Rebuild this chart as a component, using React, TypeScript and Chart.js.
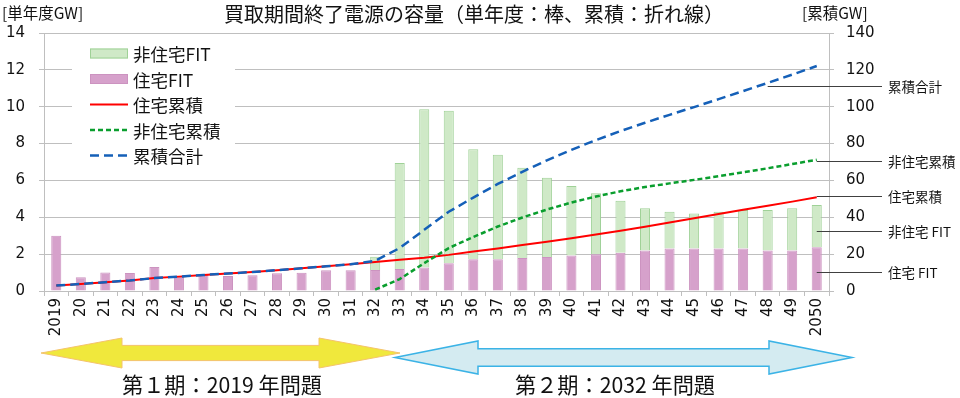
import React, { useEffect, useRef } from 'react';
import { Chart, registerables } from 'chart.js';

Chart.register(...registerables);

// ---------- data ----------
const years = ['2019','20','21','22','23','24','25','26','27','28','29','30','31','32','33','34','35','36','37','38','39','40','41','42','43','44','45','46','47','48','49','2050'];

const residentialFIT = [3.0,0.75,1.0,0.97,1.3,0.78,0.87,0.81,0.85,0.96,0.99,1.12,1.12,1.14,1.19,1.28,1.5,1.72,1.72,1.79,1.84,1.92,2.0,2.08,2.2,2.3,2.3,2.3,2.3,2.2,2.2,2.37];
const nonResidentialFIT = [null,null,null,null,null,null,null,null,null,null,null,null,null,0.72,5.75,8.58,8.28,5.97,5.68,4.9,4.31,3.78,3.31,2.82,2.29,2.0,1.9,2.0,2.1,2.2,2.29,2.3];

const residentialCum = [3.0,3.8,4.8,5.7,7.0,7.8,8.7,9.5,10.3,11.3,12.3,13.4,14.5,15.7,16.9,18.1,19.6,21.4,23.1,24.9,26.7,28.6,30.6,32.7,34.9,37.2,39.5,41.8,44.1,46.3,48.5,50.9];
const nonResidentialCum = [null,null,null,null,null,null,null,null,null,null,null,null,null,0.7,6.5,15.1,23.3,29.3,35.0,39.9,44.2,48.0,51.3,54.1,56.4,58.4,60.3,62.3,64.4,66.6,68.9,71.2];
const totalCum = [3.0,3.8,4.8,5.7,7.0,7.8,8.7,9.5,10.3,11.3,12.3,13.4,14.5,16.4,23.3,33.2,43.0,50.7,58.1,64.7,70.9,76.6,81.9,86.8,91.3,95.6,99.8,104.1,108.5,112.9,117.4,122.1];

const seriesNames = ['住宅FIT','非住宅FIT','住宅累積','非住宅累積','累積合計'];
const legendOrder = [1,0,2,3,4];

const annotationLabels = ['累積合計','非住宅累積','住宅累積','非住宅 FIT','住宅 FIT'];
const annotationValues = [111,70.5,51.3,32.6,10.3];
const annotationFrom = ['48','2050','2050','2050','2050'];

const periodLabels = ['第１期：2019 年問題','第２期：2032 年問題'];

const TITLE = '買取期間終了電源の容量（単年度：棒、累積：折れ線）';
const LEFT_TITLE = '[単年度GW]';
const RIGHT_TITLE = '[累積GW]';

const JP = "'Noto Sans CJK JP', 'DejaVu Sans', sans-serif";
const NUM = "'DejaVu Sans', 'Noto Sans CJK JP', sans-serif";

const GRID = '#bfbfbf';

function drawDoubleArrow(ctx: CanvasRenderingContext2D, x0: number, x1: number, cy: number, headLen: number, headHalf: number, shaftHalf: number, fill: string, stroke: string, lw: number) {
  ctx.beginPath();
  ctx.moveTo(x0, cy);
  ctx.lineTo(x0 + headLen, cy - headHalf);
  ctx.lineTo(x0 + headLen, cy - shaftHalf);
  ctx.lineTo(x1 - headLen, cy - shaftHalf);
  ctx.lineTo(x1 - headLen, cy - headHalf);
  ctx.lineTo(x1, cy);
  ctx.lineTo(x1 - headLen, cy + headHalf);
  ctx.lineTo(x1 - headLen, cy + shaftHalf);
  ctx.lineTo(x0 + headLen, cy + shaftHalf);
  ctx.lineTo(x0 + headLen, cy + headHalf);
  ctx.closePath();
  ctx.fillStyle = fill;
  ctx.fill();
  ctx.strokeStyle = stroke;
  ctx.lineWidth = lw;
  ctx.stroke();
}

function drawFitText(ctx: CanvasRenderingContext2D, text: string, cx: number, cy: number, width: number, font: string) {
  ctx.save();
  ctx.font = font;
  const w = ctx.measureText(text).width;
  const s = width / w;
  ctx.translate(cx, cy);
  ctx.scale(s, 1);
  ctx.textAlign = 'center';
  ctx.textBaseline = 'middle';
  ctx.fillStyle = '#111';
  ctx.fillText(text, 0, 0);
  ctx.restore();
}

const decorPlugin = {
  id: 'decor',
  afterDraw(chart: any) {
    const ctx: CanvasRenderingContext2D = chart.ctx;
    const xs = chart.scales.x;
    const y1 = chart.scales.y1;
    ctx.save();

    // titles
    ctx.fillStyle = '#111';
    ctx.textBaseline = 'middle';
    ctx.font = `20px ${JP}`;
    ctx.textAlign = 'center';
    ctx.fillText(TITLE, 474, 14);
    ctx.font = `15.5px ${JP}`;
    ctx.textAlign = 'left';
    ctx.fillText(LEFT_TITLE, 2, 13);
    ctx.fillText(RIGHT_TITLE, 802, 13);

    // legend
    ctx.fillStyle = '#fff';
    ctx.fillRect(72, 40, 163, 132);
    const ds = chart.data.datasets;
    legendOrder.forEach((di, i) => {
      const d = ds[di];
      const cy = 53.5 + i * 25.5;
      if (d.type === 'line') {
        ctx.save();
        ctx.strokeStyle = d.borderColor;
        ctx.lineWidth = d.borderWidth;
        ctx.setLineDash(d.borderDash || []);
        ctx.beginPath();
        ctx.moveTo(90, cy);
        ctx.lineTo(128, cy);
        ctx.stroke();
        ctx.restore();
      } else {
        ctx.fillStyle = d.backgroundColor;
        ctx.fillRect(90, cy - 5, 38, 10);
        ctx.strokeStyle = d.borderColor;
        ctx.lineWidth = 1;
        ctx.strokeRect(90.5, cy - 4.5, 37, 9);
      }
      ctx.fillStyle = '#111';
      ctx.font = `17.5px ${JP}`;
      ctx.textAlign = 'left';
      ctx.textBaseline = 'middle';
      ctx.fillText(d.label, 133, cy + 1);
    });

    // right annotations
    ctx.strokeStyle = '#404040';
    ctx.lineWidth = 1;
    annotationLabels.forEach((lab, i) => {
      const y = Math.round(y1.getPixelForValue(annotationValues[i])) + 0.5;
      const x0 = xs.getPixelForValue(years.indexOf(annotationFrom[i]));
      ctx.beginPath();
      ctx.moveTo(x0, y);
      ctx.lineTo(882, y);
      ctx.stroke();
      ctx.fillStyle = '#111';
      ctx.font = `13.5px ${JP}`;
      ctx.textAlign = 'left';
      ctx.textBaseline = 'middle';
      ctx.fillText(lab, 888, y);
    });

    // period arrows
    drawDoubleArrow(ctx, 41, 400, 353, 81, 15, 7.6, '#f0e83c', '#f4c36c', 1);
    drawDoubleArrow(ctx, 395, 852, 357.5, 83, 16.5, 8.7, '#d4ebf1', '#3bb3e6', 1.5);
    drawFitText(ctx, periodLabels[0], 222, 385, 200, `22px ${JP}`);
    drawFitText(ctx, periodLabels[1], 615, 385, 200, `22px ${JP}`);

    ctx.restore();
  },
};

export default function App() {
  const ref = useRef<HTMLCanvasElement | null>(null);

  useEffect(() => {
    if (!ref.current) return;
    const chart = new Chart(ref.current, {
      type: 'bar',
      data: {
        labels: years,
        datasets: [
          {
            type: 'bar',
            label: seriesNames[0],
            data: residentialFIT,
            backgroundColor: '#d6a1cb',
            borderColor: '#cc93c0',
            borderWidth: 1,
            yAxisID: 'y',
            stack: 's',
            order: 4,
            barPercentage: 0.41,
            categoryPercentage: 1,
          } as any,
          {
            type: 'bar',
            label: seriesNames[1],
            data: nonResidentialFIT,
            backgroundColor: '#cfe9c7',
            borderColor: '#9fd197',
            borderWidth: 1,
            yAxisID: 'y',
            stack: 's',
            order: 5,
            barPercentage: 0.41,
            categoryPercentage: 1,
          } as any,
          {
            type: 'line',
            label: seriesNames[2],
            data: residentialCum,
            borderColor: '#ff0000',
            borderWidth: 2,
            pointRadius: 0,
            tension: 0,
            yAxisID: 'y1',
            order: 3,
          } as any,
          {
            type: 'line',
            label: seriesNames[3],
            data: nonResidentialCum,
            borderColor: '#0a9e2e',
            borderWidth: 2.5,
            borderDash: [5, 3],
            pointRadius: 0,
            tension: 0,
            yAxisID: 'y1',
            order: 2,
          } as any,
          {
            type: 'line',
            label: seriesNames[4],
            data: totalCum,
            borderColor: '#1560b8',
            borderWidth: 2.5,
            borderDash: [9, 5],
            pointRadius: 0,
            tension: 0,
            yAxisID: 'y1',
            order: 1,
          } as any,
        ],
      },
      options: {
        responsive: false,
        animation: false,
        layout: { padding: { top: 33, left: 0, right: 0, bottom: 0 } },
        plugins: {
          legend: { display: false },
          tooltip: { enabled: false },
          title: { display: false },
        },
        scales: {
          x: {
            stacked: true,
            offset: true,
            grid: { display: true, drawOnChartArea: false, drawTicks: true, tickLength: 5, color: GRID, offset: true },
            border: { display: true, color: GRID },
            ticks: {
              autoSkip: false,
              minRotation: 90,
              maxRotation: 90,
              padding: 2,
              color: '#111',
              font: { family: NUM, size: 15 },
            },
            afterFit: (s: any) => { s.height = 107; },
          },
          y: {
            position: 'left',
            stacked: true,
            min: 0,
            max: 14,
            ticks: { stepSize: 2, padding: 14, color: '#111', font: { family: NUM, size: 15 } },
            grid: { color: GRID, tickLength: 5, drawTicks: true },
            border: { display: true, color: GRID },
            afterFit: (s: any) => { s.width = 44; },
          },
          y1: {
            position: 'right',
            min: 0,
            max: 140,
            ticks: { stepSize: 20, padding: 12, color: '#111', font: { family: NUM, size: 15 } },
            grid: { drawOnChartArea: false, color: GRID, tickLength: 5, drawTicks: true },
            border: { display: true, color: GRID },
            afterFit: (s: any) => { s.width = 131; },
          },
        },
      } as any,
      plugins: [decorPlugin],
    });
    return () => chart.destroy();
  }, []);

  return (
    <div style={{ position: 'fixed', left: 0, top: 0, width: 960, height: 398, background: '#fff' }}>
      <canvas ref={ref} width={960} height={398} style={{ width: 960, height: 398, display: 'block' }} />
    </div>
  );
}
